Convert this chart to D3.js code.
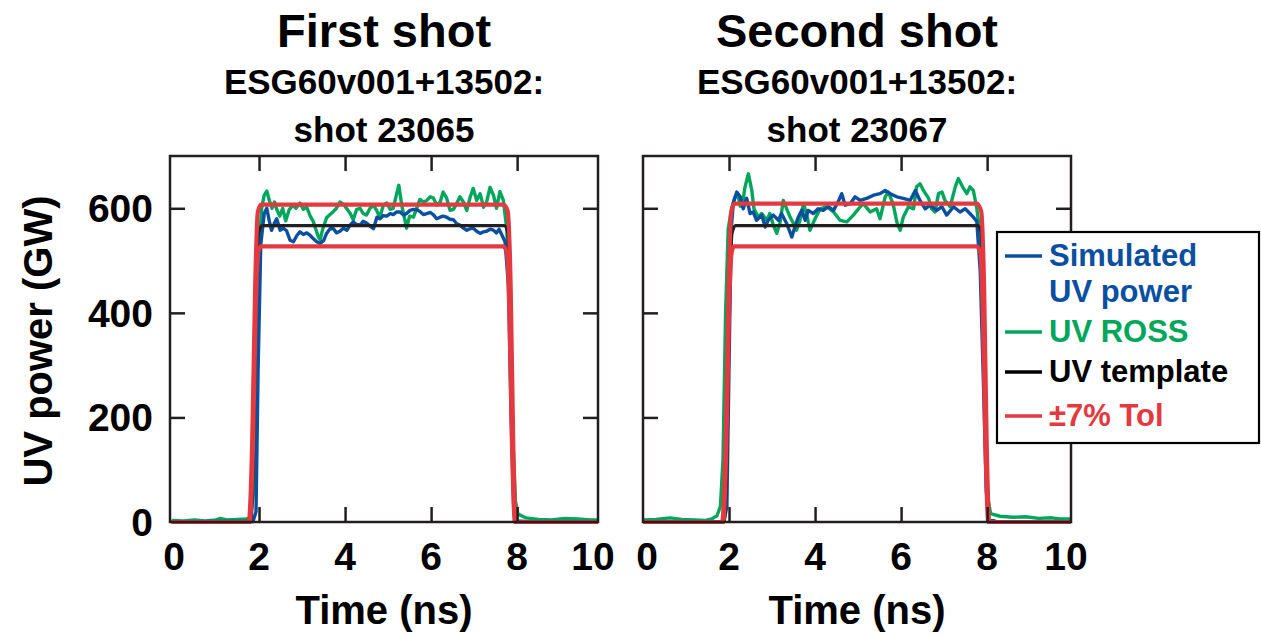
<!DOCTYPE html>
<html><head><meta charset="utf-8">
<script src="https://cdn.jsdelivr.net/npm/d3@7"></script>
<style>
body{margin:0;background:#fff}
text{font-family:"Liberation Sans",Arial,Helvetica,sans-serif;font-weight:bold}
</style>
</head><body>
<svg id="chart" width="1261" height="637"></svg>
<script>
// ---------- DATA ----------
const timeTicks = [0, 2, 4, 6, 8, 10];
const powerTicks = [0, 200, 400, 600];
const legendLabels = [["Simulated", "UV power"], ["UV ROSS"], ["UV template"], ["\u00b17% Tol"]];
const panelTitles = ["First shot", "Second shot"];
const panelSub1 = ["ESG60v001+13502:", "ESG60v001+13502:"];
const panelSub2 = ["shot 23065", "shot 23067"];

// Shot 23065 [time ns, power GW]
const ross1 = [[0,3],[0.25,2],[0.5,4],[0.75,2],[1.0,4],[1.1,7],[1.25,4],[1.5,5],[1.7,6],[1.8,8],[1.88,60],[1.95,350],[2.0,520],[2.06,600],[2.12,625],[2.18,633],[2.24,615],[2.30,600],[2.36,612],[2.42,596],[2.48,585],[2.55,600],[2.62,576],[2.70,597],[2.78,606],[2.86,600],[2.95,610],[3.03,598],[3.11,602],[3.19,585],[3.26,575],[3.32,560],[3.38,545],[3.42,540],[3.48,560],[3.57,582],[3.65,588],[3.73,594],[3.80,600],[3.88,612],[3.96,608],[4.04,599],[4.12,590],[4.19,578],[4.27,598],[4.35,600],[4.42,590],[4.50,587],[4.58,600],[4.66,606],[4.74,595],[4.81,583],[4.89,606],[4.97,610],[5.05,598],[5.12,600],[5.20,628],[5.25,644],[5.32,605],[5.43,562],[5.50,585],[5.59,583],[5.66,599],[5.74,617],[5.82,612],[5.90,615],[5.98,622],[6.05,620],[6.13,606],[6.21,612],[6.28,631],[6.36,620],[6.44,596],[6.52,598],[6.60,610],[6.67,622],[6.75,612],[6.83,596],[6.91,622],[6.98,638],[7.06,615],[7.14,628],[7.22,602],[7.29,612],[7.37,640],[7.45,625],[7.52,600],[7.60,632],[7.68,615],[7.76,560],[7.83,400],[7.90,160],[7.96,40],[8.02,15],[8.2,8],[8.5,5],[8.8,4],[9.1,7],[9.4,6],[9.7,4],[10,4]];
const sim1 = [[0,0],[1.0,1],[1.86,1],[1.93,20],[1.98,300],[2.04,530],[2.12,590],[2.18,600],[2.24,575],[2.29,558],[2.36,572],[2.41,580],[2.49,558],[2.56,562],[2.64,557],[2.72,539],[2.80,536],[2.88,548],[2.95,555],[3.03,550],[3.11,553],[3.19,548],[3.26,542],[3.34,536],[3.42,533],[3.50,538],[3.57,552],[3.65,561],[3.73,561],[3.80,553],[3.88,556],[3.96,562],[4.04,558],[4.12,568],[4.19,574],[4.27,569],[4.35,568],[4.42,575],[4.50,572],[4.58,566],[4.66,561],[4.74,583],[4.81,580],[4.89,586],[4.97,585],[5.05,590],[5.12,588],[5.20,593],[5.28,593],[5.36,587],[5.43,590],[5.51,596],[5.59,598],[5.67,597],[5.74,594],[5.82,588],[5.90,590],[5.98,592],[6.05,588],[6.13,580],[6.21,583],[6.28,585],[6.36,583],[6.44,579],[6.52,578],[6.60,570],[6.67,568],[6.75,562],[6.83,558],[6.91,561],[6.98,562],[7.06,556],[7.14,552],[7.22,555],[7.29,556],[7.37,560],[7.45,558],[7.52,553],[7.58,560],[7.64,550],[7.72,536],[7.80,450],[7.86,200],[7.92,30],[7.98,2],[8.2,1],[10,0]];
const tmpl1 = [[0,0],[1.80,0],[1.87,120],[1.93,420],[1.99,552],[2.07,567],[7.70,567],[7.78,555],[7.84,420],[7.90,120],[7.95,0],[10,0]];
const tolHi1 = [[0,0],[1.76,0],[1.84,150],[1.91,450],[1.97,592],[2.05,607],[7.68,607],[7.78,595],[7.85,450],[7.91,150],[7.97,0],[10,0]];
const tolLo1 = [[0,0],[1.78,0],[1.86,150],[1.92,400],[1.98,515],[2.04,527],[7.68,527],[7.76,515],[7.82,400],[7.88,150],[7.95,0],[10,0]];

// Shot 23067 [time ns, power GW]
const ross2 = [[0,4],[0.3,5],[0.63,8],[0.9,5],[1.2,4],[1.45,3],[1.6,6],[1.72,12],[1.8,30],[1.86,120],[1.92,400],[1.98,560],[2.06,600],[2.14,622],[2.2,628],[2.26,604],[2.32,612],[2.37,640],[2.45,666],[2.53,634],[2.58,599],[2.68,583],[2.76,590],[2.88,577],[2.95,590],[3.03,568],[3.11,552],[3.19,574],[3.26,615],[3.34,599],[3.42,583],[3.50,571],[3.57,558],[3.65,577],[3.73,609],[3.81,587],[3.88,558],[4.00,580],[4.12,599],[4.27,603],[4.43,593],[4.58,577],[4.74,574],[4.89,587],[5.05,603],[5.12,609],[5.28,593],[5.43,599],[5.51,580],[5.63,622],[5.71,631],[5.82,606],[5.90,574],[5.98,558],[6.05,583],[6.17,603],[6.29,599],[6.36,641],[6.44,647],[6.52,634],[6.64,619],[6.71,599],[6.79,593],[6.87,628],[6.95,631],[7.02,615],[7.14,603],[7.26,641],[7.33,657],[7.45,638],[7.53,628],[7.60,641],[7.68,634],[7.76,600],[7.82,560],[7.88,420],[7.96,180],[8.02,45],[8.08,16],[8.3,11],[8.6,9],[8.9,10],[9.2,7],[9.5,8],[9.7,6],[10,6]];
const sim2 = [[0,0],[1.0,0],[1.88,1],[1.95,30],[2.0,300],[2.05,560],[2.1,610],[2.18,631],[2.26,622],[2.33,599],[2.41,619],[2.49,590],[2.56,593],[2.64,577],[2.76,587],[2.84,564],[2.91,577],[3.03,587],[3.15,577],[3.22,590],[3.34,571],[3.46,545],[3.53,564],[3.61,583],[3.69,596],[3.77,577],[3.84,596],[3.96,590],[4.07,599],[4.19,596],[4.31,603],[4.43,596],[4.55,615],[4.62,628],[4.70,606],[4.82,609],[4.93,622],[5.05,615],[5.20,619],[5.36,625],[5.51,628],[5.63,634],[5.74,628],[5.90,622],[6.05,619],[6.21,615],[6.33,634],[6.44,615],[6.56,599],[6.67,606],[6.83,596],[6.95,603],[7.06,587],[7.22,603],[7.37,593],[7.49,599],[7.60,590],[7.68,583],[7.76,575],[7.84,480],[7.92,250],[7.98,60],[8.04,5],[8.2,1],[10,0]];
const tmpl2 = [[0,0],[1.88,0],[1.95,120],[2.01,420],[2.07,552],[2.15,567],[7.78,567],[7.86,555],[7.92,420],[7.98,120],[8.03,0],[10,0]];
const tolHi2 = [[0,0],[1.84,0],[1.92,150],[1.99,450],[2.05,592],[2.13,609],[7.76,609],[7.86,595],[7.93,450],[7.99,150],[8.05,0],[10,0]];
const tolLo2 = [[0,0],[1.86,0],[1.94,150],[2.0,400],[2.06,515],[2.12,527],[7.76,527],[7.84,515],[7.90,400],[7.96,150],[8.03,0],[10,0]];

// ---------- STYLE ----------
const C = {sim:"#0b4fa0", ross:"#00a65b", tmpl:"#231f20", tol:"#e23a40", axis:"#231f20"};

const svg = d3.select("#chart");
svg.append("rect").attr("width",1261).attr("height",637).attr("fill","#fff");

const yTop = 156, yBot = 522;
const panels = [
  {x0:170, x1:598, dom:[-0.07, 9.88], data:[ross1, sim1, tmpl1, tolHi1, tolLo1], yLabels:true},
  {x0:643, x1:1071, dom:[0, 9.95], data:[ross2, sim2, tmpl2, tolHi2, tolLo2], yLabels:false}
];
const seriesColors = [C.ross, C.sim, C.tmpl, C.tol, C.tol];
const seriesWidths = [3.4, 3.4, 3.2, 4.2, 4.2];

panels.forEach((p, i) => {
  const x = d3.scaleLinear().domain(p.dom).range([p.x0, p.x1]);
  const y = d3.scaleLinear().domain([0, 700]).range([yBot, yTop]);
  const g = svg.append("g");
  const cx = (p.x0 + p.x1) / 2;

  // titles
  g.append("text").attr("x", cx).attr("y", 47).attr("text-anchor","middle")
    .attr("font-size", 47).attr("fill","#000").text(panelTitles[i]);
  g.append("text").attr("x", cx).attr("y", 94).attr("text-anchor","middle")
    .attr("font-size", 35).attr("fill","#000").text(panelSub1[i]);
  g.append("text").attr("x", cx).attr("y", 142).attr("text-anchor","middle")
    .attr("font-size", 35).attr("fill","#000").text(panelSub2[i]);

  // clip
  const cid = "clip" + i;
  svg.append("clipPath").attr("id", cid).append("rect")
    .attr("x", p.x0).attr("y", yTop).attr("width", p.x1 - p.x0).attr("height", yBot - yTop + 4);

  const line = d3.line().x(d => x(d[0])).y(d => y(d[1]));
  const smooth = d3.line().x(d => x(d[0])).y(d => y(d[1])).curve(d3.curveMonotoneX);
  const lg = g.append("g").attr("clip-path", `url(#${cid})`);
  p.data.forEach((s, k) => {
    lg.append("path").datum(s)
      .attr("d", k >= 2 ? smooth : line)
      .attr("fill","none").attr("stroke", seriesColors[k])
      .attr("stroke-width", seriesWidths[k]).attr("stroke-linejoin","round").attr("stroke-linecap","round");
  });

  // ticks (inward)
  const inner = [2,4,6,8];
  g.append("g").attr("transform",`translate(0,${yBot})`)
    .call(d3.axisBottom(x).tickValues(inner).tickSize(-15).tickFormat(""))
    .call(a => a.select(".domain").remove())
    .call(a => a.selectAll("line").attr("stroke", C.axis).attr("stroke-width", 2.5));
  g.append("g").attr("transform",`translate(0,${yTop})`)
    .call(d3.axisTop(x).tickValues(inner).tickSize(-15).tickFormat(""))
    .call(a => a.select(".domain").remove())
    .call(a => a.selectAll("line").attr("stroke", C.axis).attr("stroke-width", 2.5));
  g.append("g").attr("transform",`translate(${p.x0},0)`)
    .call(d3.axisLeft(y).tickValues([200,400,600]).tickSize(-15).tickFormat(""))
    .call(a => a.select(".domain").remove())
    .call(a => a.selectAll("line").attr("stroke", C.axis).attr("stroke-width", 2.5));
  g.append("g").attr("transform",`translate(${p.x1},0)`)
    .call(d3.axisRight(y).tickValues([200,400,600]).tickSize(-15).tickFormat(""))
    .call(a => a.select(".domain").remove())
    .call(a => a.selectAll("line").attr("stroke", C.axis).attr("stroke-width", 2.5));

  // frame
  g.append("rect").attr("x", p.x0).attr("y", yTop).attr("width", p.x1 - p.x0).attr("height", yBot - yTop)
    .attr("fill","none").attr("stroke", C.axis).attr("stroke-width", 2.5);

  // x tick labels
  g.selectAll(".xl").data(timeTicks).enter().append("text")
    .attr("x", d => Math.max(p.x0 + 4, Math.min(p.x1 - 5, x(d))))
    .attr("y", 570).attr("text-anchor","middle").attr("font-size", 39).attr("fill","#000")
    .text(d => d);

  // x axis title
  g.append("text").attr("x", cx).attr("y", 624).attr("text-anchor","middle")
    .attr("font-size", 40).attr("fill","#000").text("Time (ns)");

  if (p.yLabels) {
    g.selectAll(".yl").data(powerTicks).enter().append("text")
      .attr("x", 153).attr("y", d => y(d)).attr("dy","0.36em")
      .attr("text-anchor","end").attr("font-size", 39).attr("fill","#000").text(d => d);
    g.append("text").attr("transform", `translate(52,341) rotate(-90)`)
      .attr("text-anchor","middle").attr("font-size", 40).attr("fill","#000").text("UV power (GW)");
  }
});

// legend
const lg = svg.append("g");
lg.append("rect").attr("x", 997).attr("y", 232).attr("width", 262).attr("height", 211)
  .attr("fill","#fff").attr("stroke","#000").attr("stroke-width", 2.2);
const legendColors = [C.sim, C.ross, "#000", C.tol];
const legendLineY = [256, 332, 372, 416];
legendLabels.forEach((lab, k) => {
  lg.append("line").attr("x1", 1005).attr("x2", 1042).attr("y1", legendLineY[k]).attr("y2", legendLineY[k])
    .attr("stroke", legendColors[k]).attr("stroke-width", 3.5);
  lab.forEach((s, j) => {
    lg.append("text").attr("x", 1049).attr("y", legendLineY[k] + 10 + j * 36)
      .attr("font-size", 31).attr("fill", legendColors[k]).text(s);
  });
});
</script>
</body></html>
